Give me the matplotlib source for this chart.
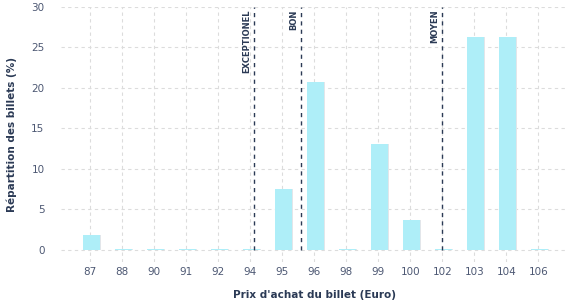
import numpy as np
import matplotlib.pyplot as plt

# data
prices = ['87', '88', '90', '91', '92', '94', '95', '96', '98', '99', '100', '102', '103', '104', '106']
shares = [1.8, 0.15, 0.15, 0.15, 0.15, 0.15, 7.5, 20.7, 0.15, 13.1, 3.7, 0.15, 26.3, 26.3, 0.15]

# reference lines, position on the category axis (index units)
ref_labels = ['EXCEPTIONEL', 'BON', 'MOYEN']
ref_pos = [5.13, 6.6, 11.0]

navy = '#2b3a55'
tick_col = '#4d5873'
bar_col = '#aeeef8'
grid_col = '#dcdcdc'

fig = plt.figure(figsize=(5.77, 3.0), dpi=100)
ax = fig.add_axes([0.106, 0.127, 0.877, 0.85])

x = np.arange(len(prices))
# light shadow behind each bar
ax.bar(x + 0.07, shares, width=0.53, color='#e2e6ea', zorder=2)
ax.bar(x + 0.04, shares, width=0.53, color=bar_col, zorder=3)

for lab, pos in zip(ref_labels, ref_pos):
    ax.vlines(pos, 0, 30, colors=navy, linestyles=(0, (3, 3)), linewidth=1.0, zorder=4)
    ax.text(pos - 0.1, 29.7, lab, rotation=90, ha='right', va='top',
            fontsize=6, color=navy, fontweight='bold')

ax.set_xlim(-0.9, 14.9)
ax.set_ylim(-1.5, 30)
ax.set_xticks(x)
ax.set_xticklabels(prices)
ax.set_yticks([0, 5, 10, 15, 20, 25, 30])

ax.grid(True, color=grid_col, linestyle=(0, (3, 3)), linewidth=0.8, zorder=0)
ax.set_axisbelow(True)
for s in ax.spines.values():
    s.set_visible(False)
ax.tick_params(length=0, labelsize=7.5, labelcolor=tick_col)
ax.tick_params(axis='x', pad=4)
ax.tick_params(axis='y', pad=12)

ax.set_xlabel("Prix d'achat du billet (Euro)", fontsize=7.5, fontweight='bold', color=navy, labelpad=9)
ax.set_ylabel('Répartition des billets (%)', fontsize=7.5, fontweight='bold', color=navy, labelpad=10)

fig.savefig('out.png', dpi=100)
